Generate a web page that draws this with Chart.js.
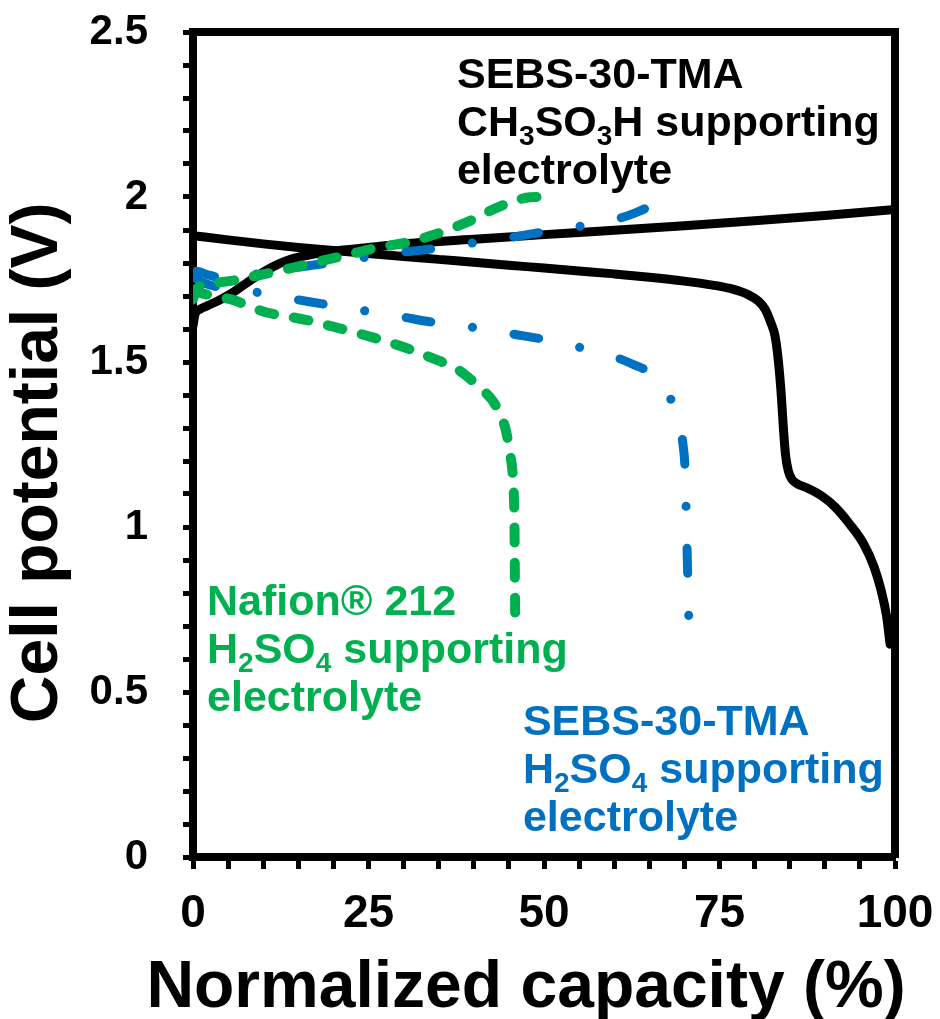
<!DOCTYPE html>
<html>
<head>
<meta charset="utf-8">
<script src="https://cdn.jsdelivr.net/npm/chart.js@4.4.0/dist/chart.umd.min.js"></script>
<style>
  html, body { margin: 0; padding: 0; background: #fff; }
</style>
</head>
<body>
<canvas id="cell-potential" width="940" height="1019"></canvas>
<script>
// Normalized capacity (%) vs cell potential (V)

// SEBS-30-TMA, CH3SO3H supporting electrolyte (black, solid)
const blackChargeX = [0, 0.3, 1, 2, 4, 6, 8, 10, 12, 14, 17, 20, 25, 30, 40, 50, 60, 70, 80, 90, 100];
const blackChargeV = [1.61, 1.645, 1.66, 1.67, 1.69, 1.715, 1.745, 1.772, 1.795, 1.812, 1.826, 1.836, 1.847, 1.858, 1.872, 1.886, 1.899, 1.913, 1.928, 1.944, 1.962];
const blackDischargeX = [0, 5, 10, 15, 20, 25, 30, 35, 40, 45, 50, 55, 60, 65, 70, 74, 77, 79, 80.5, 81.5, 82.3, 82.9, 83.4, 83.8, 84.1, 84.4, 84.8, 85.3, 86, 87.5, 89.5, 91.5, 93.5, 95.5, 97, 98, 98.8, 99.3];
const blackDischargeV = [1.883, 1.87, 1.858, 1.847, 1.838, 1.829, 1.82, 1.811, 1.802, 1.793, 1.785, 1.776, 1.767, 1.757, 1.745, 1.733, 1.72, 1.705, 1.685, 1.66, 1.62, 1.58, 1.5, 1.4, 1.3, 1.22, 1.17, 1.145, 1.132, 1.118, 1.095, 1.06, 1.01, 0.95, 0.88, 0.81, 0.73, 0.645];

// Nafion 212, H2SO4 supporting electrolyte (green, dashed)
const greenChargeX = [0, 0.5, 2, 4, 6, 8, 10.5, 13, 15.5, 18, 20.5, 23, 25.7, 28, 31, 33.5, 36, 38, 40.2, 42, 44, 46, 48, 49.5];
const greenChargeV = [1.69, 1.72, 1.735, 1.742, 1.748, 1.757, 1.768, 1.78, 1.792, 1.805, 1.817, 1.83, 1.844, 1.853, 1.864, 1.88, 1.898, 1.915, 1.935, 1.955, 1.974, 1.99, 1.999, 2.0];
const greenDischargeX = [0, 1, 3, 6, 8, 10.5, 13, 16, 20.5, 25.7, 30.3, 35, 37.5, 39.3, 41, 42.6, 43.8, 44.6, 45.1, 45.5, 45.7, 45.8, 45.85, 45.9];
const greenDischargeV = [1.72, 1.71, 1.7, 1.686, 1.668, 1.65, 1.64, 1.628, 1.604, 1.574, 1.543, 1.504, 1.48, 1.452, 1.42, 1.385, 1.34, 1.29, 1.23, 1.17, 1.1, 1.0, 0.85, 0.72];

// SEBS-30-TMA, H2SO4 supporting electrolyte (blue, dash-dot)
const blueChargeX = [0, 0.5, 2, 4, 7, 10, 14, 18.6, 22, 26.6, 30, 34.5, 38, 42.2, 46, 49.6, 54, 58, 61, 63, 64.7, 66, 67.5, 68.3];
const blueChargeV = [1.76, 1.775, 1.765, 1.756, 1.76, 1.77, 1.784, 1.798, 1.81, 1.823, 1.833, 1.844, 1.855, 1.868, 1.88, 1.893, 1.907, 1.923, 1.937, 1.952, 1.968, 1.982, 1.996, 2.003];
const blueDischargeX = [0, 1, 3, 6, 10.4, 14, 18.2, 22, 26.1, 30, 33.7, 37.5, 41.6, 45.5, 49.6, 53.5, 57.1, 60.5, 63, 64.7, 66.5, 68, 69.1, 69.8, 70.1, 70.3, 70.5, 70.65, 70.75];
const blueDischargeV = [1.76, 1.745, 1.73, 1.72, 1.707, 1.692, 1.677, 1.663, 1.65, 1.636, 1.622, 1.611, 1.6, 1.585, 1.57, 1.552, 1.534, 1.512, 1.49, 1.473, 1.44, 1.39, 1.33, 1.25, 1.17, 1.0, 0.83, 0.7, 0.63];

// axes
const xMajorTicks = [0, 25, 50, 75, 100];
const yMajorTicks = [0, 0.5, 1, 1.5, 2, 2.5];
const xTitle = 'Normalized capacity (%)';
const yTitle = 'Cell potential (V)';

const BLACK = '#000000';
const GREEN = '#00b050';
const BLUE = '#0070c0';
const FONT = '"Liberation Sans", Arial, sans-serif';

// text labels inside the plot, anchored in data units ("_3" = subscript 3)
const notes = [
  { x: 37.6, y: 2.33, color: BLACK, lines: ['SEBS-30-TMA', 'CH_3SO_3H supporting', 'electrolyte'] },
  { x: 2.0, y: 0.733, color: GREEN, lines: ['Nafion\u00ae 212', 'H_2SO_4 supporting', 'electrolyte'] },
  { x: 47.0, y: 0.37, color: BLUE, lines: ['SEBS-30-TMA', 'H_2SO_4 supporting', 'electrolyte'] }
];

function curve(xs, vs) {
  return xs.map((x, i) => ({ x: x, y: vs[i] }));
}

function series(label, xs, vs, color, dash, width) {
  return {
    label: label,
    data: curve(xs, vs),
    borderColor: color,
    borderWidth: width,
    borderDash: dash,
    borderCapStyle: 'round',
    borderJoinStyle: 'round',
    showLine: true,
    pointRadius: 0,
    fill: false,
    cubicInterpolationMode: 'monotone'
  };
}

function drawRich(ctx, text, x, y, size) {
  // split "CH_3SO_3H" into normal and subscript runs
  const parts = text.split(/(_\d)/).filter(p => p.length);
  let cx = x;
  parts.forEach(p => {
    const sub = p[0] === '_';
    const s = sub ? p.slice(1) : p;
    ctx.font = 'bold ' + (sub ? Math.round(size * 0.65) : size) + 'px ' + FONT;
    ctx.fillText(s, cx, sub ? y + size * 0.2 : y);
    cx += ctx.measureText(s).width;
  });
}

const notesPlugin = {
  id: 'notes',
  afterDatasetsDraw(chart) {
    const ctx = chart.ctx;
    const xs = chart.scales.x, ys = chart.scales.y;
    ctx.save();
    ctx.textBaseline = 'alphabetic';
    ctx.textAlign = 'left';
    notes.forEach(n => {
      let py = ys.getPixelForValue(n.y);
      const px = xs.getPixelForValue(n.x);
      ctx.fillStyle = n.color;
      n.lines.forEach(line => {
        drawRich(ctx, line, px, py, 43);
        py += 48;
      });
    });
    ctx.restore();
  }
};

// the x title is wider than the plot, so Chart.js would squeeze it; draw it here instead
const xTitlePlugin = {
  id: 'xTitle',
  afterDraw(chart) {
    const ctx = chart.ctx, area = chart.chartArea;
    ctx.save();
    ctx.font = 'bold 66px ' + FONT;
    ctx.fillStyle = BLACK;
    ctx.textAlign = 'center';
    ctx.textBaseline = 'alphabetic';
    ctx.fillText(xTitle, (area.left + area.right) / 2 - 18, chart.height - 12);
    ctx.restore();
  }
};

const isMajor = (v, list) => list.some(m => Math.abs(m - v) < 1e-6);

new Chart(document.getElementById('cell-potential'), {
  type: 'scatter',
  data: {
    datasets: [
      series('Nafion 212 charge', greenChargeX, greenChargeV, GREEN, [15, 20], 10),
      series('Nafion 212 discharge', greenDischargeX, greenDischargeV, GREEN, [15, 20], 10),
      series('SEBS-30-TMA H2SO4 charge', blueChargeX, blueChargeV, BLUE, [25, 42, 0.1, 42], 9),
      series('SEBS-30-TMA H2SO4 discharge', blueDischargeX, blueDischargeV, BLUE, [25, 42, 0.1, 42], 9),
      series('SEBS-30-TMA CH3SO3H charge', blackChargeX, blackChargeV, BLACK, [], 9),
      series('SEBS-30-TMA CH3SO3H discharge', blackDischargeX, blackDischargeV, BLACK, [], 9)
    ]
  },
  options: {
    responsive: false,
    animation: false,
    layout: { padding: { left: 0, right: 45, top: 32, bottom: 0 } },
    plugins: {
      legend: { display: false },
      tooltip: { enabled: false }
    },
    scales: {
      x: {
        type: 'linear',
        min: 0,
        max: 100,
        border: { display: true, color: BLACK, width: 8 },
        grid: { drawOnChartArea: false, tickLength: 12, tickWidth: 5, tickColor: BLACK },
        ticks: {
          stepSize: 5,
          autoSkip: false,
          maxRotation: 0,
          padding: 22,
          color: BLACK,
          font: { family: FONT, size: 46, weight: 'bold', lineHeight: 1 },
          callback: v => isMajor(v, xMajorTicks) ? String(v) : ''
        },
        title: { display: false },
        afterFit: s => { s.height = 162; s.paddingLeft = 0; s.paddingRight = 0; }
      },
      y: {
        type: 'linear',
        min: 0,
        max: 2.5,
        border: { display: true, color: BLACK, width: 8 },
        grid: { drawOnChartArea: false, tickLength: 10, tickWidth: 5, tickColor: BLACK },
        ticks: {
          stepSize: 0.1,
          autoSkip: false,
          padding: 35,
          color: BLACK,
          font: { family: FONT, size: 42, weight: 'bold', lineHeight: 1 },
          callback: v => isMajor(v, yMajorTicks) ? String(Math.round(v * 10) / 10) : ''
        },
        title: {
          display: true,
          text: yTitle + '  ',
          color: BLACK,
          font: { family: FONT, size: 66, weight: 'bold', lineHeight: 1 },
          padding: { top: 6, bottom: 0 }
        },
        afterFit: s => { s.width = 193; s.paddingTop = 0; s.paddingBottom = 0; }
      },
      x2: {
        type: 'linear',
        position: 'top',
        min: 0,
        max: 100,
        display: true,
        border: { display: true, color: BLACK, width: 8 },
        grid: { display: false, drawTicks: false },
        ticks: { display: false },
        afterFit: s => { s.height = 0; s.paddingLeft = 0; s.paddingRight = 0; }
      },
      y2: {
        type: 'linear',
        position: 'right',
        min: 0,
        max: 2.5,
        display: true,
        border: { display: true, color: BLACK, width: 8 },
        grid: { display: false, drawTicks: false },
        ticks: { display: false },
        afterFit: s => { s.width = 0; s.paddingTop = 0; s.paddingBottom = 0; }
      }
    }
  },
  plugins: [notesPlugin, xTitlePlugin]
});
</script>
</body>
</html>
